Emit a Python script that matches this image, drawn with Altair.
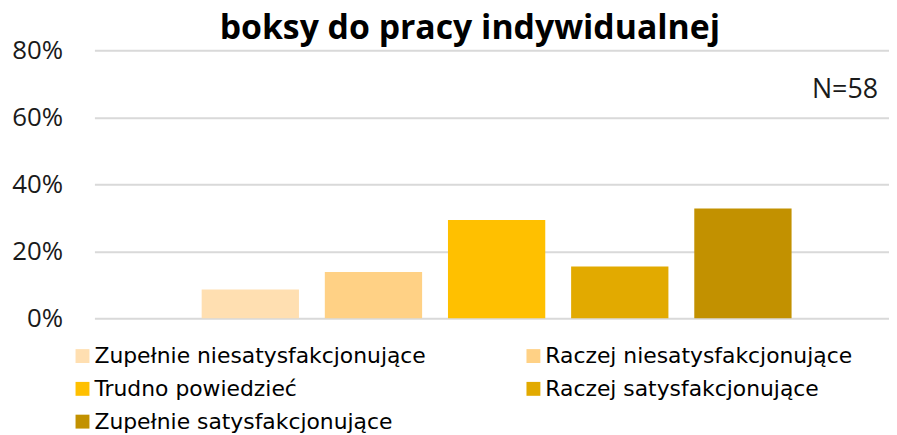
import altair as alt
import pandas as pd

categories = [
    "Zupełnie niesatysfakcjonujące",
    "Raczej niesatysfakcjonujące",
    "Trudno powiedzieć",
    "Raczej satysfakcjonujące",
    "Zupełnie satysfakcjonujące",
]
values = [0.086, 0.138, 0.293, 0.155, 0.328]
colors = ["#FFDFB1", "#FFD185", "#FFC000", "#E2AA00", "#C29100"]
# legend is filled column by column: this order reads row by row as in the reference
legend_order = [0, 2, 4, 1, 3]
y_ticks = [0, 0.2, 0.4, 0.6, 0.8]
note = ["N=58"]
note_y = [0.68]

df = pd.DataFrame({"kat": categories, "val": values})
note_df = pd.DataFrame({"t": note, "val": note_y})

FONT = "Open Sans"
LEG_FONT = "DejaVu Sans"

leg_domain = [categories[i] for i in legend_order]
leg_range = [colors[i] for i in legend_order]

bars = alt.Chart(df).mark_bar().encode(
    x=alt.X(
        "kat:N",
        sort=categories,
        axis=None,
        scale=alt.Scale(paddingInner=0.21, paddingOuter=0.831, align=0.524),
    ),
    y=alt.Y(
        "val:Q",
        title=None,
        scale=alt.Scale(domain=[0, 0.8]),
        axis=alt.Axis(
            values=y_ticks,
            format=".0%",
            labelFont=FONT,
            labelFontSize=26,
            labelColor="#1a1a1a",
            labelPadding=32,
            domain=False,
            ticks=False,
            grid=True,
            gridColor="#D9D9D9",
            gridWidth=2,
        ),
    ),
    color=alt.Color(
        "kat:N",
        scale=alt.Scale(domain=leg_domain, range=leg_range),
        legend=alt.Legend(
            title=None,
            orient="none",
            legendX=-23,
            legendY=297,
            columns=2,
            columnPadding=97,
            rowPadding=11,
            symbolType="square",
            symbolSize=196,
            symbolStrokeWidth=0,
            labelOffset=1,
            labelFont=LEG_FONT,
            labelFontSize=22,
            labelColor="#000000",
            labelLimit=0,
        ),
    ),
)

text = alt.Chart(note_df).mark_text(
    align="right", baseline="middle", font=FONT, fontSize=27, color="#1a1a1a"
).encode(
    x=alt.value(789),
    y=alt.Y("val:Q"),
    text="t:N",
)

chart = (
    alt.layer(bars, text)
    .properties(
        width=800,
        height=270,
        title=alt.Title(
            "boksy do pracy indywidualnej",
            font=FONT,
            fontSize=34,
            fontWeight="bold",
            color="#000000",
            anchor="middle",
            baseline="alphabetic",
            dx=-22,
            offset=-36,
        ),
        autosize=alt.AutoSizeParams(type="none"),
        padding={"left": 87, "top": 41, "right": 0, "bottom": 114},
    )
    .configure_view(stroke=None)
)

chart.save("out.html", embed_options={"renderer": "svg", "actions": False})
